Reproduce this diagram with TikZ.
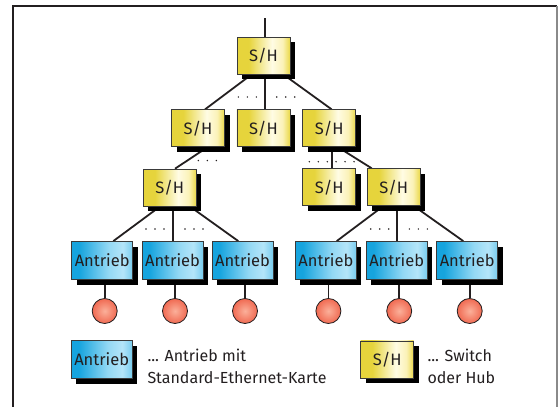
\documentclass[tikz,border=0pt]{standalone}
\usepackage{fontspec}
\setmainfont{Fira Sans}
\usetikzlibrary{calc,shadows,backgrounds}

\definecolor{ink}{HTML}{231F20}
\definecolor{boxline}{HTML}{3A3A3A}
\definecolor{framegray}{HTML}{8A8A8A}
% switch / hub fill
\definecolor{ylwA}{HTML}{E6D43C}
\definecolor{ylwB}{HTML}{FFFCE4}
\definecolor{ylwC}{HTML}{FBF2B8}
\definecolor{ylwD}{HTML}{EAD848}
% drive fill
\definecolor{bluA}{HTML}{16A4DE}
\definecolor{bluB}{HTML}{93D8F4}
\definecolor{bluC}{HTML}{B4E5F9}
\definecolor{bluD}{HTML}{78CCEE}
% port
\definecolor{portin}{HTML}{FBB09A}
\definecolor{portout}{HTML}{F06A52}

\pgfdeclarehorizontalshading{swhub}{100bp}{color(0bp)=(ylwA); color(25bp)=(ylwA); color(36bp)=(ylwA); color(58bp)=(ylwB); color(68bp)=(ylwC); color(75bp)=(ylwD); color(100bp)=(ylwD)}
\pgfdeclarehorizontalshading{drivebl}{100bp}{color(0bp)=(bluA); color(25bp)=(bluA); color(31bp)=(bluA); color(55bp)=(bluB); color(67bp)=(bluC); color(75bp)=(bluD); color(100bp)=(bluD)}

\tikzset{
  box/.style={draw=boxline, line width=0.8pt, inner sep=0pt, text=ink,
    font=\fontsize{16.5}{20}\selectfont,
    drop shadow={shadow xshift=5pt, shadow yshift=-5pt, fill=black, opacity=1}},
  hub/.style={box, minimum width=53pt, minimum height=37pt, shading=swhub},
  drive/.style={box, minimum width=61pt, minimum height=38pt, shading=drivebl},
  port/.style={circle, minimum size=25pt, inner sep=0pt, draw=ink, line width=0.8pt,
    inner color=portin, outer color=portout},
  wire/.style={draw=ink, line width=1.8pt},
  dots/.style={draw=ink, line width=1.6pt, line cap=round, dash pattern=on 0pt off 9pt},
  legend/.style={inner sep=0pt, text=ink, font=\fontsize{16}{21.6}\selectfont},
}

\begin{document}
\begin{tikzpicture}[x=1pt, y=-1pt]
\useasboundingbox (0,0) rectangle (560,407);

% frame
\draw[ink, line width=1.2pt] (13,407) -- (13,6) -- (557,6);
\draw[framegray, line width=2pt] (557,6) -- (557,407);

% switches / hubs
\node[hub] (s0) at (263.5,55.5) {S/H};
\node[hub] (s1) at (198,128.3) {S/H};
\node[hub] (s2) at (263.4,128.3) {S/H};
\node[hub] (s3) at (329.2,128.3) {S/H};
\node[hub] (s4) at (169.7,187.6) {S/H};
\node[hub] (s5) at (329.2,187.2) {S/H};
\node[hub] (s6) at (393.7,187.2) {S/H};

% drives
\node[drive] (a1) at (102.2,260.5) {Antrieb};
\node[drive] (a2) at (172.5,260.5) {Antrieb};
\node[drive] (a3) at (242.5,260.5) {Antrieb};
\node[drive] (a4) at (325.9,260.5) {Antrieb};
\node[drive] (a5) at (396.7,260.5) {Antrieb};
\node[drive] (a6) at (467.2,260.5) {Antrieb};

% ports
\node[port] (c1) at (104.7,311) {};
\node[port] (c2) at (175,311) {};
\node[port] (c3) at (245,311) {};
\node[port] (c4) at (328.4,311) {};
\node[port] (c5) at (399.2,311) {};
\node[port] (c6) at (469.7,311) {};

\coordinate (feed) at (265,18);

\begin{scope}[on background layer]
  \draw[wire] (feed) -- ($(s0.north)+(1.5,0)$);
  \draw[wire] ($(s0.south)+(-11.8,0)$) -- ($(s1.north)+(7,0)$);
  \draw[wire] ($(s0.south)+(1.5,0)$) -- ($(s2.north)+(1.6,0)$);
  \draw[wire] ($(s0.south)+(19.8,0)$) -- ($(s3.north)+(2.5,0)$);
  \draw[wire] ($(s1.south)+(9.5,0)$) -- ($(s4.north)+(5.3,0)$);
  \draw[wire] ($(s3.south)+(2.5,0)$) -- ($(s5.north)+(2.5,0)$);
  \draw[wire] ($(s3.south)+(8.8,0)$) -- ($(s6.north)+(-22,0)$);
  \draw[wire] ($(s4.south)+(-9.7,0)$) -- ($(a1.north)+(11.1,0)$);
  \draw[wire] ($(s4.south)+(3,0)$) -- ($(a2.north)+(0.2,0)$);
  \draw[wire] ($(s4.south)+(20.3,0)$) -- ($(a3.north)+(-4.2,0)$);
  \draw[wire] ($(s6.south)+(-10.4,0)$) -- ($(a4.north)+(10.8,0)$);
  \draw[wire] ($(s6.south)+(3.6,0)$) -- ($(a5.north)+(0.6,0)$);
  \draw[wire] ($(s6.south)+(20.3,0)$) -- ($(a6.north)+(-3.9,0)$);
  \foreach \i in {1,...,6}
    \draw[wire] (a\i.south -| c\i) -- (c\i.north);
\end{scope}

% omitted branches
\draw[dots] (238.3,97) -- ++(18.4,0);
\draw[dots] (276.7,97) -- ++(18.4,0);
\draw[dots] (198.3,160.5) -- ++(18.4,0);
\draw[dots] (309.3,161.7) -- ++(18.4,0);
\draw[dots] (336,161.7) -- ++(18.4,0);
\draw[dots] (146,229) -- ++(18.4,0);
\draw[dots] (185,229) -- ++(18.4,0);
\draw[dots] (370.7,229) -- ++(18.4,0);
\draw[dots] (409.3,229) -- ++(18.4,0);

% legend
\node[drive] (la) at (101.7,359.5) {Antrieb};
\node[hub] (ls) at (387.2,359.4) {S/H};
\node[legend, anchor=base west] (t1) at (147.3,361.7) {... Antrieb mit};
\node[legend, anchor=base west] (t2) at (147.3,383.3) {Standard-Ethernet-Karte};
\node[legend, anchor=base west] (t3) at (427.3,361.7) {... Switch};
\node[legend, anchor=base west] (t4) at (427.3,383.3) {oder Hub};
\end{tikzpicture}
\end{document}
